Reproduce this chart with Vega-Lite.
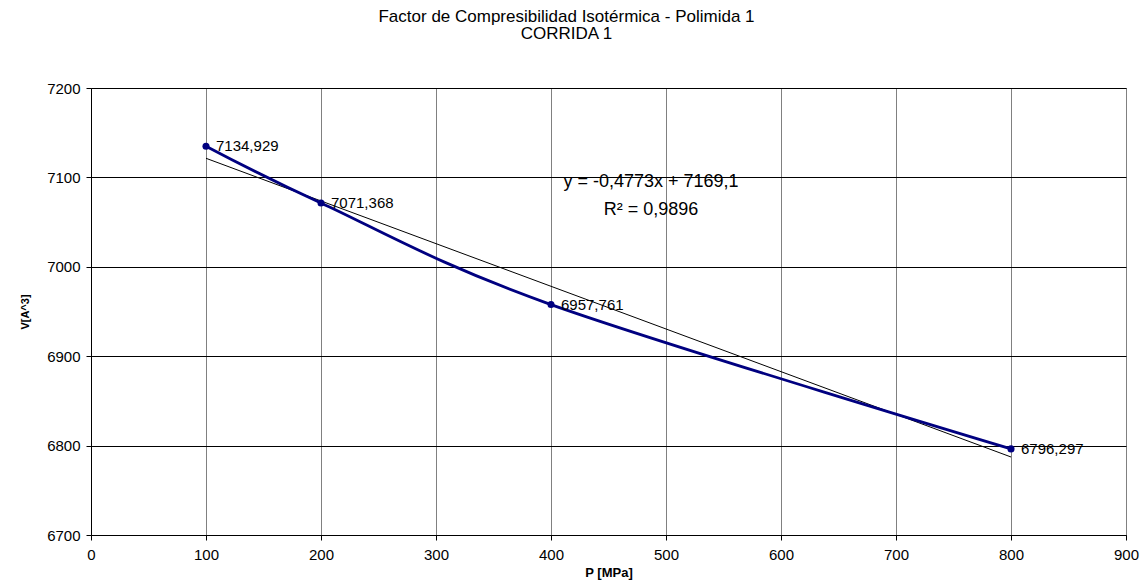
{
  "$schema": "https://vega.github.io/schema/vega-lite/v6.json",
  "width": 1035,
  "height": 447,
  "autosize": {"type": "none"},
  "padding": {"left": 91, "top": 88, "right": 14, "bottom": 49},
  "background": "white",
  "config": {
    "locale": {"number": {"decimal": ",", "thousands": ".", "grouping": [3], "currency": ["", ""]}},
    "font": "Liberation Sans",
    "view": {"stroke": "#606060", "strokeWidth": 1},
    "axis": {
      "labelFont": "Liberation Sans",
      "labelFontSize": 15,
      "labelColor": "#000",
      "labelFlush": false,
      "titleFont": "Liberation Sans",
      "titleFontWeight": "bold",
      "titleColor": "#000",
      "domainColor": "#000",
      "tickColor": "#000",
      "tickSize": 5
    }
  },
  "title": {
    "text": ["Factor de Compresibilidad Isotérmica - Polimida 1", "CORRIDA 1"],
    "font": "Liberation Sans",
    "fontSize": 17,
    "fontWeight": "normal",
    "lineHeight": 17,
    "anchor": "middle",
    "dx": -42,
    "offset": 38,
    "color": "#000"
  },
  "datasets": {
    "measured": [
      {"p": 100, "v": 7134.929},
      {"p": 200, "v": 7071.368},
      {"p": 400, "v": 6957.761},
      {"p": 800, "v": 6796.297}
    ],
    "trend": [
      {"p": 100, "v": 7121.37},
      {"p": 800, "v": 6787.26}
    ],
    "equation": [
      {"p": 487, "v": 7089, "text": "y = -0,4773x + 7169,1"},
      {"p": 487, "v": 7058, "text": "R² = 0,9896"}
    ]
  },
  "encoding": {
    "x": {
      "field": "p",
      "type": "quantitative",
      "scale": {"domain": [0, 900], "nice": false},
      "axis": {
        "title": "P [MPa]",
        "titleFontSize": 13,
        "values": [0, 100, 200, 300, 400, 500, 600, 700, 800, 900],
        "format": "d",
        "grid": true,
        "gridColor": "#808080",
        "gridWidth": 1,
        "labelPadding": 7,
        "titlePadding": 4
      }
    },
    "y": {
      "field": "v",
      "type": "quantitative",
      "scale": {"domain": [6700, 7200], "nice": false, "zero": false},
      "axis": {
        "title": "V[A^3]",
        "titleFontSize": 11,
        "values": [6700, 6800, 6900, 7000, 7100, 7200],
        "format": "d",
        "grid": true,
        "gridColor": "#000",
        "gridWidth": 1,
        "labelPadding": 6,
        "titlePadding": 16
      }
    }
  },
  "layer": [
    {
      "data": {"name": "trend"},
      "mark": {"type": "line", "color": "#000", "strokeWidth": 1}
    },
    {
      "data": {"name": "measured"},
      "mark": {"type": "line", "color": "#000080", "strokeWidth": 2.8, "interpolate": "cardinal"}
    },
    {
      "data": {"name": "measured"},
      "mark": {"type": "point", "filled": true, "opacity": 1, "color": "#000080", "size": 50, "shape": "circle"}
    },
    {
      "data": {"name": "measured"},
      "mark": {"type": "text", "align": "left", "baseline": "middle", "dx": 10, "fontSize": 15, "color": "#000", "font": "Liberation Sans"},
      "encoding": {"text": {"field": "v", "type": "quantitative", "format": ".3f"}}
    },
    {
      "data": {"name": "equation"},
      "mark": {"type": "text", "align": "center", "baseline": "alphabetic", "fontSize": 18, "color": "#000", "font": "Liberation Sans"},
      "encoding": {"text": {"field": "text", "type": "nominal"}}
    }
  ]
}
